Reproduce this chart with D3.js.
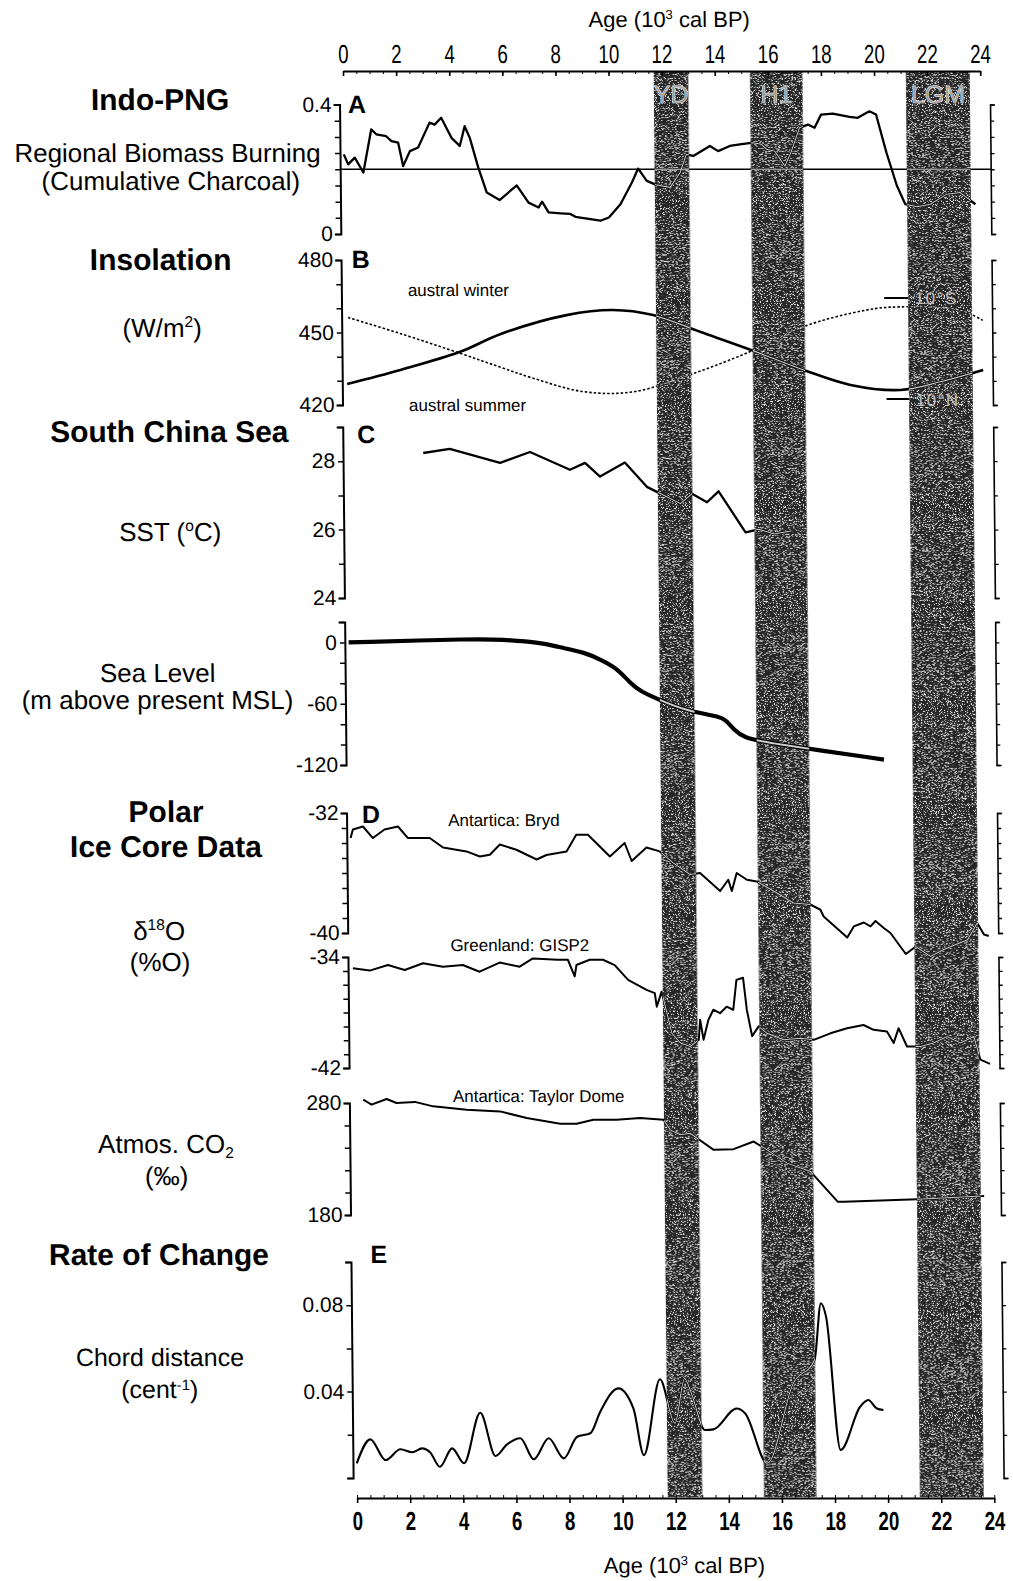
<!DOCTYPE html>
<html>
<head>
<meta charset="utf-8">
<script src="https://cdn.jsdelivr.net/npm/d3@7"></script>
<style>
body { margin: 0; background: #fff; }
text { font-family: "Liberation Sans", Arial, Helvetica, sans-serif; }
</style>
</head>
<body>
<script>
// --- data, ages in 10^3 cal BP ---
const ageTicks = [0, 2, 4, 6, 8, 10, 12, 14, 16, 18, 20, 22, 24];

const bandNames = ["YD", "H1", "LGM"];
const bandStart = [11.7, 15.33, 21.2];
const bandEnd = [13.0, 17.3, 23.6];

// A: regional biomass burning (cumulative charcoal)
const charcoalAge = [0, 0.16, 0.41, 0.73, 1.04, 1.23, 1.6, 1.8, 2.05, 2.23, 2.49, 2.8, 3.24, 3.43, 3.68, 4.06, 4.37, 4.56, 4.75, 5.06, 5.37, 5.85, 6.5, 6.94, 7.32, 7.45, 7.69, 8.14, 8.51, 8.7, 9.64, 9.96, 10.4, 10.84, 11.08, 11.4, 11.78, 12.28, 12.66, 12.9, 13.16, 13.79, 14.1, 14.54, 14.92, 15.42, 15.73, 15.92, 16.23, 16.61, 16.86, 17.17, 17.49, 17.74, 17.99, 18.43, 19.06, 19.37, 19.81, 20.06, 20.44, 20.82, 21.13, 21.57, 22.07, 22.7, 23.2, 23.77];
const charcoalVal = [0.246, 0.215, 0.236, 0.19, 0.323, 0.308, 0.302, 0.287, 0.282, 0.21, 0.256, 0.267, 0.344, 0.338, 0.359, 0.297, 0.272, 0.333, 0.297, 0.205, 0.128, 0.105, 0.15, 0.097, 0.082, 0.1, 0.067, 0.064, 0.062, 0.053, 0.041, 0.051, 0.092, 0.159, 0.202, 0.164, 0.151, 0.144, 0.19, 0.246, 0.241, 0.272, 0.256, 0.272, 0.277, 0.282, 0.277, 0.262, 0.256, 0.21, 0.256, 0.328, 0.338, 0.328, 0.369, 0.372, 0.362, 0.359, 0.379, 0.369, 0.251, 0.149, 0.092, 0.084, 0.092, 0.123, 0.128, 0.092];
const charcoalRef = 0.2;
const charcoalTicks = ["0", "0.4"];

// B: insolation W/m2
const winterAge = [0.1, 2.05, 4.31, 5.8, 7.07, 8.95, 10.84, 13.1, 15.36, 17.24, 19.63, 20.88, 23.14, 24];
const winterVal = [456.2, 449.6, 441.4, 435.7, 431, 425.5, 425.5, 433.1, 442.7, 452.4, 459.3, 460.6, 459.3, 455];
const summerAge = [0.04, 2.05, 4.31, 5.82, 8.33, 10.08, 11.59, 13.35, 15.36, 17.24, 19.0, 20.88, 22.38, 24.0];
const summerVal = [428.7, 434.5, 442, 449.3, 457.2, 459.3, 457.2, 450.3, 442.4, 434.5, 428.3, 426.2, 429.6, 434.5];
const insolTicks = ["420", "450", "480"];

// C: South China Sea SST and sea level
const sstAge = [2.88, 3.88, 5.77, 6.9, 8.4, 8.97, 9.53, 10.47, 11.29, 12.55, 12.99, 13.55, 13.99, 14.99, 15.49, 16.06, 16.69];
const sstVal = [28.24, 28.36, 27.95, 28.27, 27.75, 27.95, 27.55, 27.96, 27.25, 26.76, 27.05, 26.8, 27.12, 25.92, 26.01, 25.87, 25.96];
const sstTicks = ["24", "26", "28"];
const seaAge = [0, 4.93, 5.68, 7.32, 7.82, 8.95, 9.45, 10.08, 10.58, 10.96, 11.59, 12.72, 13.97, 14.22, 14.47, 14.85, 15.73, 20.12];
const seaVal = [0, 3.6, 2.9, -0.3, -4.2, -10.1, -16.7, -24.8, -39.5, -47.7, -55.2, -67.4, -72.3, -77.2, -85.3, -93.4, -98.3, -114.7];
const seaTicks = ["-120", "-60", "0"];

// D: polar ice cores
const byrdAge = [0, 0.09, 0.47, 0.84, 1.28, 1.79, 2.16, 2.98, 3.48, 4.36, 4.86, 5.24, 5.62, 6.24, 7.0, 7.37, 8.13, 8.5, 8.94, 9.76, 10.32, 10.58, 11.14, 11.64, 12.14, 12.77, 13.15, 13.9, 14.21, 14.34, 14.53, 14.91, 15.28, 16.04, 16.66, 17.29, 17.67, 17.79, 18.67, 18.92, 19.3, 19.55, 19.74, 20.05, 20.3, 20.87, 21.25, 21.8, 22.3, 23.2, 23.57, 23.82, 24.0];
const byrdVal = [-33.67, -33.1, -32.9, -33.67, -33.1, -32.9, -33.67, -33.67, -34.3, -34.56, -34.9, -34.78, -34.1, -34.45, -35.1, -34.8, -34.56, -33.45, -33.45, -34.9, -34.0, -35.2, -34.3, -34.56, -35.33, -36.1, -36.0, -37.2, -36.45, -37.2, -36.0, -36.45, -36.56, -37.33, -38.0, -38.1, -38.45, -38.9, -40.3, -39.56, -39.3, -39.56, -39.2, -39.67, -40.0, -41.4, -40.9, -41.56, -41.1, -40.45, -39.33, -40.1, -40.2];
const byrdTicks = ["-40", "-32"];
const gispAge = [0.04, 0.67, 1.36, 1.99, 2.68, 3.43, 4.18, 4.81, 5.57, 6.32, 6.82, 7.76, 8.14, 8.39, 8.46, 8.96, 9.46, 9.9, 10.4, 11.09, 11.4, 11.47, 11.66, 12.03, 12.35, 12.72, 13.04, 13.1, 13.22, 13.41, 13.6, 13.85, 14.1, 14.35, 14.48, 14.73, 14.86, 15.05, 15.3, 15.61, 16.24, 16.87, 17.37, 18.0, 18.63, 19.25, 19.63, 20.13, 20.38, 20.57, 20.88, 21.39, 21.88, 22.39, 22.9, 23.4, 23.64, 24.0];
const gispVal = [-34.81, -34.98, -34.58, -34.94, -34.45, -34.7, -34.58, -35.06, -34.4, -34.7, -34.1, -34.2, -34.2, -35.4, -34.58, -34.2, -34.2, -34.58, -35.65, -36.37, -36.6, -37.58, -36.5, -39.5, -40.2, -40.45, -39.97, -38.53, -39.97, -38.53, -37.8, -38.05, -37.58, -37.8, -35.65, -35.5, -37.8, -39.7, -39.0, -39.5, -39.97, -39.85, -39.97, -39.5, -39.13, -38.9, -39.25, -39.37, -40.2, -39.13, -40.45, -40.45, -40.2, -39.73, -40.2, -39.73, -41.4, -41.7];
const gispTicks = ["-42", "-34"];
const co2Age = [0.38, 0.69, 1.26, 1.63, 2.32, 3.01, 4.27, 5.53, 6.53, 7.79, 8.41, 9.04, 9.92, 10.8, 11.68, 11.93, 12.3, 12.68, 13.56, 14.31, 15.07, 15.57, 16.32, 17.2, 18.21, 18.45, 21.22, 23.73];
const co2Val = [283, 278.5, 283.6, 280, 281, 277, 274, 272.5, 266.6, 261.5, 261.5, 265, 265, 266.6, 265, 256, 251.6, 253, 238.2, 238.8, 245.6, 238.2, 226.3, 218.8, 191.9, 191.9, 194, 197];
const co2Ticks = ["180", "280"];

// E: rate of change (chord distance)
const rocAge = [0, 0.52, 1.09, 1.65, 2.09, 2.47, 2.78, 3.13, 3.6, 4.04, 4.67, 5.23, 5.67, 6.17, 6.67, 7.24, 7.8, 8.31, 8.81, 9.19, 9.88, 10.44, 10.82, 11.45, 12.0, 12.38, 12.63, 13.13, 13.45, 14.33, 14.65, 15.46, 16.47, 17.28, 17.54, 17.73, 18.23, 18.98, 19.29, 19.61, 19.86];
const rocVal = [0.0068, 0.0179, 0.0083, 0.0133, 0.0119, 0.0137, 0.0117, 0.0052, 0.0137, 0.0068, 0.0302, 0.0102, 0.0156, 0.0184, 0.0087, 0.0184, 0.0091, 0.0191, 0.0207, 0.0307, 0.0415, 0.0322, 0.0106, 0.0457, 0.0253, 0.0461, 0.0392, 0.0222, 0.0225, 0.0322, 0.0299, 0.0068, 0.0438, 0.0546, 0.0809, 0.0747, 0.013, 0.033, 0.0361, 0.0322, 0.0315];
const rocTicks = ["0.04", "0.08"];

// --- page ---
const W = 1013, H = 1581;
const svg = d3.select("body").append("svg").attr("width", W).attr("height", H);
svg.append("rect").attr("width", W).attr("height", H).attr("fill", "#fff");

const defs = svg.append("defs");
// grainy look of the scanned grey bands
const flt = defs.append("filter").attr("id", "grain")
    .attr("x", 0).attr("y", 0).attr("width", 1).attr("height", 1);
flt.append("feTurbulence").attr("type", "fractalNoise").attr("baseFrequency", 1.3)
    .attr("numOctaves", 1).attr("seed", 7).attr("result", "noise");
flt.append("feColorMatrix").attr("in", "noise").attr("type", "matrix")
    .attr("values", "0 0 0 0 0.8  0 0 0 0 0.8  0 0 0 0 0.8  9 0 0 0 -5.1").attr("result", "spk");
flt.append("feComposite").attr("in", "spk").attr("in2", "SourceGraphic").attr("operator", "in").attr("result", "spk2");
const mrg = flt.append("feMerge");
mrg.append("feMergeNode").attr("in", "SourceGraphic");
mrg.append("feMergeNode").attr("in", "spk2");

// the scan is slightly sheared, lower panels sit further right
const g = svg.append("g").attr("transform", "skewX(0.566)");

const x = d3.scaleLinear().domain([0, 24]).range([342.3, 979.5]);
const axL = 338.5, axR = 989, topY = 71, botY = 1498;

const yA = d3.scaleLinear().domain([0, 0.4]).range([234, 104.5]);
const yB = d3.scaleLinear().domain([420, 480]).range([405, 260]);
const yC = d3.scaleLinear().domain([24, 29]).range([598, 427]);
const ySea = d3.scaleLinear().domain([-120, 20]).range([765, 622]);
const yD1 = d3.scaleLinear().domain([-40, -32]).range([933, 813]);
const yD2 = d3.scaleLinear().domain([-42, -34]).range([1068, 957]);
const yCO2 = d3.scaleLinear().domain([180, 280]).range([1215, 1103]);
const yE = d3.scaleLinear().domain([0, 0.1]).range([1478, 1262]);

const bandClip = defs.append("clipPath").attr("id", "bandclip");
bandNames.forEach((n, i) => {
    bandClip.append("rect").attr("x", x(bandStart[i])).attr("y", topY + 1)
        .attr("width", x(bandEnd[i]) - x(bandStart[i])).attr("height", botY - topY - 2);
});

const bandLayer = g.append("g");
const axisLayer = g.append("g");
const curveLayer = g.append("g");
const overLayer = g.append("g").attr("clip-path", "url(#bandclip)");
const textLayer = g.append("g");

bandNames.forEach((n, i) => {
    bandLayer.append("rect")
        .attr("x", x(bandStart[i])).attr("y", topY + 1)
        .attr("width", x(bandEnd[i]) - x(bandStart[i])).attr("height", botY - topY - 2)
        .attr("fill", "#262626").attr("filter", "url(#grain)");
    textLayer.append("text")
        .attr("x", x((bandStart[i] + bandEnd[i]) / 2)).attr("y", 103)
        .attr("text-anchor", "middle").attr("font-size", 25)
        .attr("fill", "#8e8e8e").attr("stroke", "#e0e0e0").attr("stroke-width", 0.7)
        .text(n);
});

// curves: black line, with a pale trace where it crosses a band
function curve(ages, vals, y, crv, width, dash) {
    const line = d3.line().x(d => x(d[0])).y(d => y(d[1])).curve(crv);
    const data = d3.zip(ages, vals);
    curveLayer.append("path").datum(data).attr("d", line)
        .attr("fill", "none").attr("stroke", "#000").attr("stroke-width", width)
        .attr("stroke-linejoin", "round").attr("stroke-dasharray", dash || null);
    overLayer.append("path").datum(data).attr("d", line)
        .attr("fill", "none").attr("stroke", "#cfcfcf").attr("stroke-width", Math.max(1, width * 0.45))
        .attr("stroke-dasharray", dash || null);
}

function hline(x1, x2, yy, width) {
    [curveLayer, overLayer].forEach((lay, k) => {
        lay.append("line").attr("x1", x1).attr("x2", x2).attr("y1", yy).attr("y2", yy)
            .attr("stroke", k ? "#cfcfcf" : "#000").attr("stroke-width", k ? 1 : width);
    });
}

function vAxis(y, step, labels) {
    const [d0, d1] = y.domain();
    const vals = d3.range(d0, d1 + step / 2, step);
    const left = axisLayer.append("g").attr("transform", `translate(${axL},0)`)
        .call(d3.axisLeft(y).tickValues(vals).tickSizeInner(5).tickSizeOuter(6).tickPadding(3)
            .tickFormat(v => labels.find(s => Math.abs(+s - v) < step / 10) || ""));
    left.attr("font-family", null).attr("font-size", 21);
    left.select(".domain").attr("stroke-width", 2);
    left.selectAll(".tick line").attr("stroke-width", 1.5);
    const right = axisLayer.append("g").attr("transform", `translate(${axR},0)`)
        .call(d3.axisRight(y).tickValues(vals).tickSizeInner(4).tickSizeOuter(5).tickFormat(""));
    right.select(".domain").attr("stroke-width", 1.6);
    right.selectAll(".tick line").attr("stroke-width", 1.3);
}

vAxis(yA, 0.05, charcoalTicks);
vAxis(yB, 10, insolTicks);
vAxis(yC, 1, sstTicks);
vAxis(ySea, 20, seaTicks);
vAxis(yD1, 1, byrdTicks);
vAxis(yD2, 1, gispTicks);
vAxis(yCO2, 20, co2Ticks);
vAxis(yE, 0.02, rocTicks);

// top and bottom age axes
function hAxis(yy, top) {
    const mk = top ? d3.axisTop : d3.axisBottom;
    axisLayer.append("g").attr("transform", `translate(0,${yy})`)
        .call(mk(x).tickValues(d3.range(0, 24.01, 0.5)).tickFormat("").tickSizeInner(-3).tickSizeOuter(0))
        .select(".domain").attr("stroke-width", 2);
    const maj = axisLayer.append("g").attr("transform", `translate(0,${yy})`)
        .call(mk(x).tickValues(ageTicks).tickSizeInner(top ? -5 : 5).tickSizeOuter(0).tickFormat(d => d));
    maj.attr("font-family", null).attr("font-size", 26);
    maj.select(".domain").remove();
    maj.selectAll(".tick line").attr("stroke-width", 1.6);
    maj.selectAll("text").attr("dy", 0).attr("y", top ? -8 : 32)
        .attr("transform", "scale(0.72,1)").attr("font-weight", top ? null : "bold");
}
hAxis(topY, true);
hAxis(botY, false);

function ageTitle(yy) {
    const t = textLayer.append("text").attr("x", 669).attr("y", yy)
        .attr("text-anchor", "middle").attr("font-size", 22);
    t.append("tspan").text("Age (10");
    t.append("tspan").attr("font-size", 13).attr("dy", -8).text("3");
    t.append("tspan").attr("dy", 8).text(" cal BP)");
}
ageTitle(27);
ageTitle(1573);

// panel curves
hline(axL, axR, yA(charcoalRef), 1.4);
curve(charcoalAge, charcoalVal, yA, d3.curveLinear, 2.3);
curve(summerAge, summerVal, yB, d3.curveCatmullRom, 2.6);
curve(winterAge, winterVal, yB, d3.curveCatmullRom, 1.6, "2.5,2");
curve(sstAge, sstVal, yC, d3.curveLinear, 2.3);
curve(seaAge, seaVal, ySea, d3.curveBasis, 4.2);
curve(byrdAge, byrdVal, yD1, d3.curveLinear, 2);
curve(gispAge, gispVal, yD2, d3.curveLinear, 2);
curve(co2Age, co2Val, yCO2, d3.curveLinear, 2);
curve(rocAge, rocVal, yE, d3.curveMonotoneX, 2.1);

// 10°S / 10°N pointers
hline(x(20.3), x(21.25), 298, 2);
hline(x(20.35), x(21.25), 399, 2);
textLayer.append("text").attr("x", x(21.45)).attr("y", 304).attr("font-size", 17)
    .attr("letter-spacing", 1.5).attr("fill", "#c0c0c0").text("10°S");
textLayer.append("text").attr("x", x(21.45)).attr("y", 406).attr("font-size", 17)
    .attr("letter-spacing", 1.5).attr("fill", "#c0c0c0").text("10°N");

// small in-panel labels
function small(txt, xx, yy) {
    textLayer.append("text").attr("x", xx).attr("y", yy).attr("font-size", 17).text(txt);
}
small("austral winter", 405, 296);
small("austral summer", 405, 411);
small("Antartica: Bryd", 440, 826);
small("Greenland: GISP2", 441, 951);
small("Antartica: Taylor Dome", 442, 1102);

// panel letters
[["A", 347, 113], ["B", 349, 268], ["C", 353, 443], ["D", 354, 823], ["E", 358, 1263]].forEach(p => {
    textLayer.append("text").attr("x", p[1]).attr("y", p[2]).attr("font-size", 25)
        .attr("font-weight", "bold").text(p[0]);
});

// left-hand labels; [text, dy] parts are raised/lowered small text
function side(parts, xx, yy, size, bold) {
    const t = textLayer.append("text").attr("x", xx).attr("y", yy).attr("text-anchor", "middle")
        .attr("font-size", size).attr("font-weight", bold ? "bold" : null);
    let back = 0;
    parts.forEach(p => {
        if (typeof p === "string") {
            t.append("tspan").attr("dy", back || null).text(p);
            back = 0;
        } else {
            t.append("tspan").attr("font-size", size * 0.6).attr("dy", p[1]).text(p[0]);
            back = -p[1];
        }
    });
}
side(["Indo-PNG"], 159, 110, 30, true);
side(["Regional Biomass Burning"], 166, 162, 26);
side(["(Cumulative Charcoal)"], 169, 190, 26);
side(["Insolation"], 158, 270, 30, true);
side(["(W/m", ["2", -10], ")"], 159, 337, 26);
side(["South China Sea"], 165, 442, 30, true);
side(["SST (", ["o", -10], "C)"], 165, 541, 26);
side(["Sea Level"], 151, 682, 26);
side(["(m above present MSL)"], 150.5, 709, 26);
side(["Polar"], 158, 822, 30, true);
side(["Ice Core Data"], 157.5, 857, 30, true);
side(["δ", ["18", -10], "O"], 150, 940, 26);
side(["(%O)"], 150.5, 971, 26);
side(["Atmos. CO", ["2", 5]], 154.6, 1153, 26);
side(["(‰)"], 155, 1185, 26);
side(["Rate of Change"], 146.5, 1265, 30, true);
side(["Chord distance"], 146.5, 1366, 25);
side(["(cent", ["-1", -8], ")"], 146, 1398, 25);
</script>
</body>
</html>
